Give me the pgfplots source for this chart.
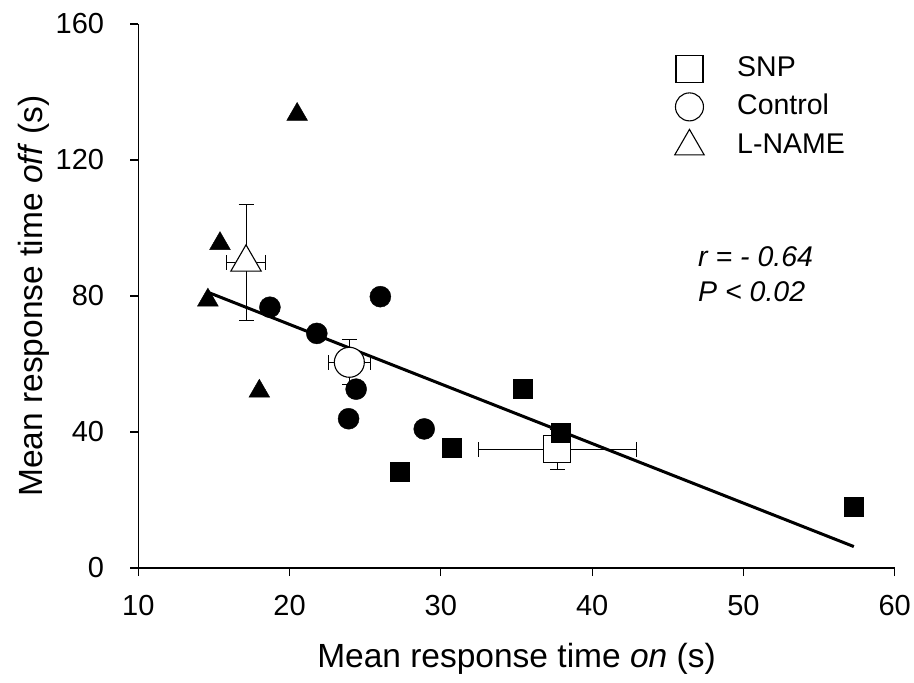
\documentclass[border=0pt]{standalone}
\usepackage{pgfplots}
\pgfplotsset{compat=1.18}
\usepackage{fontspec}
\setmainfont{Liberation Sans}

\begin{document}
\begin{tikzpicture}
\path[use as bounding box] (0,0) rectangle (914bp,683bp);
\begin{axis}[
  at={(138.3bp,115bp)}, anchor=south west,
  scale only axis, width=756.4bp, height=544bp,
  xmin=10, xmax=60, ymin=0, ymax=160,
  xtick={10,20,30,40,50,60}, ytick={0,40,80,120,160},
  axis lines=left,
  axis line style={line width=1.4bp, -},
  tick align=outside,
  major tick length=8bp,
  tick style={line width=1.2bp, black},
  /pgf/number format/assume math mode=true,
  tick label style={font=\fontsize{29bp}{32bp}\selectfont},
  xticklabel style={anchor=north, inner sep=0pt, yshift=-19bp},
  yticklabel style={anchor=east, inner sep=0pt, xshift=-26bp},
  xlabel={Mean response time \textit{on} (s)},
  ylabel={Mean response time \textit{off} (s)},
  label style={font=\fontsize{33.5bp}{36bp}\selectfont},
  xlabel style={at={(axis description cs:0.5,-0.182)}, anchor=base, inner sep=0pt},
  ylabel style={at={(axis description cs:-0.1273,0.5)}, anchor=base, inner sep=0pt},
  clip=false,
  legend style={draw=none, fill=none, at={(axis description cs:0.705,0.95)}, anchor=north west,
    font=\fontsize{28.5bp}{34bp}\selectfont, row sep=7bp,
    nodes={inner sep=2bp, text height=21bp, text depth=6bp},
    /tikz/every odd column/.append style={column sep=31bp}},
  legend cell align=left,
  legend image code/.code={\draw[mark repeat=2,mark phase=2,#1] plot coordinates {(0bp,0bp) (17bp,0bp) (34bp,0bp)};},
]
% legend entries
\addlegendimage{only marks, mark=square*, mark size=13.5bp, mark options={line width=1.1bp, draw=black, fill=white}}
\addlegendentry{SNP}
\addlegendimage{only marks, mark=*, mark size=14bp, mark options={line width=1.1bp, draw=black, fill=white}}
\addlegendentry{Control}
\addlegendimage{only marks, mark=triangle*, mark size=17bp, mark options={line width=1.1bp, draw=black, fill=white}}
\addlegendentry{L-NAME}

% group means: error bars first
\pgfplotsset{meanerr/.style={draw=none, mark=none, forget plot,
  error bars/.cd, x dir=both, x explicit, y dir=both, y explicit,
  error bar style={draw=black, line width=1bp},
  error mark options={draw=black, rotate=90, mark size=7.5bp, line width=1bp}}}
\addplot[meanerr] coordinates {(37.7,34.9) +- (5.2,5.9)};
\addplot[meanerr] coordinates {(23.95,60.5) +- (1.4,6.6)};
\addplot[meanerr] coordinates {(17.12,89.9) +- (1.3,17.0)};

% group means: open (white-filled) markers
\addplot[only marks, mark=square*, mark size=13.5bp, mark options={line width=1.1bp, draw=black, fill=white}, forget plot]
  coordinates {(37.7,34.9)};
\addplot[only marks, mark=*, mark size=15bp, mark options={line width=1.1bp, draw=black, fill=white}, forget plot]
  coordinates {(23.95,60.5)};
\addplot[only marks, mark=triangle*, mark size=17.5bp, mark options={line width=1.1bp, draw=black, fill=white}, forget plot]
  coordinates {(17.12,89.9)};

% regression line
\addplot[line width=3bp, black, forget plot] coordinates {(14.6,81.1) (57.3,6.3)};

% individual animals
\addplot[only marks, mark=square*, mark size=9.5bp, black, forget plot] coordinates {
  (30.7,35.4) (27.3,28.3) (35.4,52.6) (37.9,39.9) (57.3,18.0)};
\addplot[only marks, mark=*, mark size=10.5bp, black, forget plot] coordinates {
  (18.7,76.7) (26.0,79.8) (21.8,69.0) (24.4,52.6) (23.9,43.9) (28.9,40.9)};
\addplot[only marks, mark=triangle*, mark size=12bp, black, forget plot] coordinates {
  (20.5,133.4) (15.4,95.4) (14.6,78.8) (18.0,52.0)};

\node[anchor=base west, inner sep=0pt, font=\fontsize{28.5bp}{34bp}\selectfont\itshape] at (axis description cs:0.740,0.554) {r = - 0.64};
\node[anchor=base west, inner sep=0pt, font=\fontsize{28.5bp}{34bp}\selectfont\itshape] at (axis description cs:0.740,0.4895) {P < 0.02};
\end{axis}
\end{tikzpicture}
\end{document}
